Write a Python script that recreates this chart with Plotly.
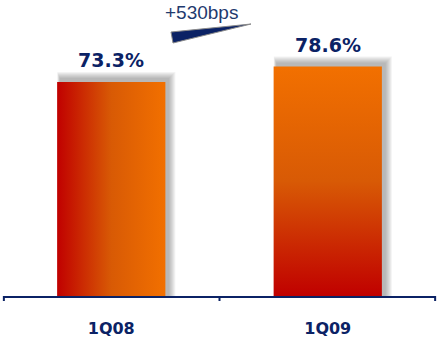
import plotly.graph_objects as go

# Data
categories = ["1Q08", "1Q09"]
values = [73.3, 78.6]
value_labels = ["73.3%", "78.6%"]
change_label = "+530bps"

NAVY = "#0B2265"
RED = "#C00000"
ORANGE = "#F27000"
BAR_W = 0.5

W, H = 437, 338
M_L, M_R, M_T, M_B = 3, 1, 0, 42
X_RANGE = [-0.5, 1.5]
Y_RANGE = [0, 101.4]
PLOT_W = W - M_L - M_R
PLOT_H = H - M_T - M_B
px_x = (X_RANGE[1] - X_RANGE[0]) / PLOT_W
px_y = (Y_RANGE[1] - Y_RANGE[0]) / PLOT_H

fig = go.Figure()
shapes = []

# soft drop shadow behind each bar
for i, v in enumerate(values):
    x0, x1 = i - BAR_W / 2, i + BAR_W / 2
    cx0, cx1 = x0 + 3 * px_x, x1 + 3 * px_x
    ctop = v + 3 * px_y
    for k in range(1, 8):
        shapes.append(dict(
            type="rect", xref="x", yref="y", layer="below",
            x0=cx0 - k * px_x * 0.4, x1=cx1 + k * px_x,
            y0=0, y1=ctop + k * px_y,
            fillcolor="rgba(90,90,90,0.07)", line=dict(width=0),
        ))

# gradient bars
grad_types = ["horizontal", "vertical"]
for i, (v, g) in enumerate(zip(values, grad_types)):
    x0, x1 = i - BAR_W / 2, i + BAR_W / 2
    fig.add_trace(go.Scatter(
        x=[x0, x1, x1, x0, x0], y=[0, 0, v, v, 0],
        mode="lines", fill="toself", line=dict(width=0),
        fillgradient=dict(type=g, colorscale=[[0, RED], [0.5, "#D85A05"], [1, ORANGE]]),
        hoverinfo="skip", showlegend=False,
    ))

# value labels
annotations = []
for i, (v, t) in enumerate(zip(values, value_labels)):
    annotations.append(dict(
        x=i, y=v, xref="x", yref="y", text=f"<b>{t}</b>", showarrow=False,
        yanchor="bottom", yshift=9,
        font=dict(family="DejaVu Sans", size=19, color=NAVY),
    ))

# change indicator: wedge and text
wx0 = X_RANGE[0] + (171 - M_L) * px_x
wx1 = X_RANGE[0] + (251 - M_L) * px_x
def ypx(p):
    return Y_RANGE[0] + (H - M_B - p) * px_y
shapes.append(dict(
    type="path", xref="x", yref="y",
    path=f"M {wx0},{ypx(32)} L {wx1},{ypx(24)} L {wx0 + 2*px_x},{ypx(43)} Z",
    fillcolor=NAVY, line=dict(color="#8A8A8A", width=1),
))
annotations.append(dict(
    x=X_RANGE[0] + (201 - M_L) * px_x, y=ypx(12), xref="x", yref="y",
    text=change_label, showarrow=False,
    font=dict(family="Liberation Sans", size=19, color="#1F3A6E"),
))

# boundary tick marks below the axis line
for b in [-0.5, 0.5, 1.5]:
    xp = (b - X_RANGE[0]) / (X_RANGE[1] - X_RANGE[0])
    xp = min(max(xp, 0.002), 0.998)
    shapes.append(dict(
        type="line", xref="paper", yref="paper",
        x0=xp, x1=xp, y0=0, y1=-5 / PLOT_H,
        line=dict(color=NAVY, width=2),
    ))

fig.update_layout(
    width=W, height=H,
    margin=dict(l=M_L, r=M_R, t=M_T, b=M_B),
    paper_bgcolor="white", plot_bgcolor="white",
    shapes=shapes, annotations=annotations,
    xaxis=dict(
        range=X_RANGE, tickvals=[0, 1], ticktext=categories,
        showgrid=False, zeroline=False, ticks="",
        showline=True, linecolor=NAVY, linewidth=2,
        tickfont=dict(family="DejaVu Sans", size=16, color=NAVY, weight="bold"),
        ticklabelstandoff=17, fixedrange=True,
    ),
    yaxis=dict(range=Y_RANGE, visible=False, fixedrange=True),
)

fig.write_html("out.html")
